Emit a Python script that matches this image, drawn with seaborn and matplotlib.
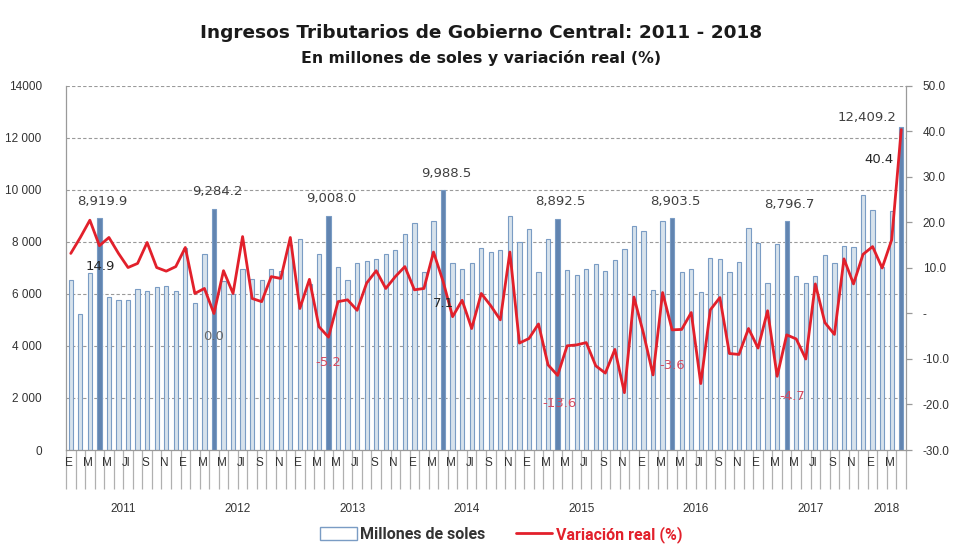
import numpy as np
import pandas as pd
import matplotlib.pyplot as plt
import matplotlib.transforms as mtransforms
from matplotlib.patches import Patch
from matplotlib.lines import Line2D
import seaborn as sns

# datos mensuales ene-2011 a abr-2018
anios = ['2011', '2012', '2013', '2014', '2015', '2016', '2017', '2018']
meses_por_anio = [12, 12, 12, 12, 12, 12, 12, 4]
etiquetas_mes = ['E', 'M', 'M', 'Jl', 'S', 'N']

millones = [
    6540, 5220, 6820, 8919.9, 5900, 5760, 5760, 6180, 6130, 6280, 6320, 6130,
    7760, 5670, 7540, 9284.2, 6500, 6000, 6960, 6590, 6540, 6970, 6900, 7900,
    8110, 6400, 7540, 9008.0, 7030, 6540, 7200, 7260, 7350, 7540, 7690, 8290,
    8720, 6830, 8820, 9988.5, 7200, 6970, 7200, 7780, 7630, 7680, 8990, 8010,
    8490, 6830, 8100, 8892.5, 6920, 6730, 6970, 7150, 6880, 7300, 7730, 8620,
    8440, 6150, 8790, 8903.5, 6860, 6960, 6060, 7400, 7330, 6860, 7240, 8550,
    7950, 6410, 7920, 8796.7, 6690, 6410, 6690, 7500, 7200, 7860, 7820, 9790,
    9220, 7050, 9200, 12409.2,
]

variacion = [
    13.2, 16.7, 20.5, 14.9, 16.7, 13.2, 10.1, 11.0, 15.6, 10.1, 9.3, 10.3,
    14.5, 4.4, 5.5, 0.0, 9.4, 4.4, 16.9, 3.3, 2.6, 8.1, 7.7, 16.7,
    1.1, 7.5, -2.9, -5.2, 2.6, 3.0, 0.7, 6.7, 9.4, 5.5, 8.1, 10.3,
    5.2, 5.5, 13.5, 7.1, -0.7, 2.9, -3.3, 4.4, 1.7, -1.4, 13.5, -6.5,
    -5.5, -2.3, -11.3, -13.6, -7.1, -6.9, -6.4, -11.5, -13.1, -7.9, -17.4, 3.6,
    -4.4, -13.5, 4.6, -3.6, -3.5, 0.2, -15.4, 0.8, 3.5, -8.8, -9.0, -3.3,
    -7.6, 0.6, -13.8, -4.7, -5.6, -10.0, 6.5, -2.0, -4.6, 12.0, 6.5, 13.0,
    14.7, 10.0, 16.2, 40.4,
]

yticks_izq = [0, 2000, 4000, 6000, 8000, 10000, 12000, 14000]
ylabels_izq = ['0', '2 000', '4 000', '6 000', '8 000', '10 000', '12 000', '14000']
yticks_der = [-30, -20, -10, 0, 10, 20, 30, 40, 50]
ylabels_der = ['-30.0', '-20.0', '-10.0', '-', '10.0', '20.0', '30.0', '40.0', '50.0']

mes_num = [m for n in meses_por_anio for m in range(n)]
df = pd.DataFrame({
    'mes': np.arange(len(millones)),
    'mes_num': mes_num,
    'millones': millones,
    'variacion': variacion,
})
df['abril'] = df['mes_num'] == 3

sns.set_style('white')
plt.rcParams['font.family'] = ['Liberation Sans', 'DejaVu Sans']

ROJO = '#e2202b'
AZUL_CLARO = '#d3e2f0'
AZUL_BORDE = '#7a9cc4'
AZUL_OSCURO = '#5483bd'
GRIS = '#9a9a9a'

fig = plt.figure(figsize=(9.62, 5.45), dpi=100)
ax = fig.add_axes([0.0686, 0.1743, 0.8732, 0.668])

sns.barplot(data=df, x='mes', y='millones', hue='abril', dodge=False,
            native_scale=True, width=0.45,
            palette={False: AZUL_CLARO, True: AZUL_OSCURO},
            edgecolor=AZUL_BORDE, linewidth=0.8, legend=False, ax=ax)
ax.set_xlim(-0.5, len(millones) - 0.5)
ax.set_ylim(0, 14000)
ax.set_yticks(yticks_izq)
ax.set_yticklabels(ylabels_izq, fontsize=8.5, color='#333333')
ax.set_xlabel('')
ax.set_ylabel('')
for y in yticks_izq[1:]:
    ax.axhline(y, color=GRIS, lw=0.8, ls=(0, (3, 2)), zorder=0)

ax2 = ax.twinx()
sns.lineplot(data=df, x='mes', y='variacion', ax=ax2, color=ROJO, linewidth=2.0)
ax2.set_ylim(-30, 50)
ax2.set_yticks(yticks_der)
ax2.set_yticklabels(ylabels_der, fontsize=8.5, color='#333333')
ax2.set_ylabel('')
ax2.set_xlim(-0.5, len(millones) - 0.5)

for a in (ax, ax2):
    a.spines['top'].set_visible(False)
    for s in ('left', 'right', 'bottom'):
        a.spines[s].set_color(GRIS)
        a.spines[s].set_linewidth(0.9)
ax.spines['right'].set_visible(False)
ax2.spines['left'].set_visible(False)
ax2.spines['bottom'].set_visible(False)
ax.tick_params(axis='y', left=False, pad=14)
ax2.tick_params(axis='y', right=True, length=4, color=GRIS, width=0.9, pad=8)

# eje x en dos niveles: meses y años
limites_anio = np.concatenate([[0], np.cumsum(meses_por_anio)]) - 0.5
ax.set_xticks(limites_anio)
ax.set_xticks(np.arange(len(millones) + 1) - 0.5, minor=True)
ax.set_xticklabels([])
ax.tick_params(axis='x', which='major', bottom=True, direction='out',
               length=56, color=GRIS, width=0.9)
ax.tick_params(axis='x', which='minor', bottom=True, direction='out',
               length=28, color='#b0b0b0', width=0.9)
ax2.set_xticks([])

trans = mtransforms.blended_transform_factory(ax.transData, ax.transAxes)
for k, anio in enumerate(anios):
    inicio = limites_anio[k] + 0.5
    for j in range(0, meses_por_anio[k], 2):
        ax.text(inicio + j - 0.2, -0.035, etiquetas_mes[j // 2], transform=trans,
                ha='center', va='center', fontsize=8.5, color='#333333')
    ax.text((limites_anio[k] + limites_anio[k + 1]) / 2, -0.162, anio, transform=trans,
            ha='center', va='center', fontsize=8.5, color='#333333')

# etiquetas de abril
abr = df[df['abril']].reset_index(drop=True)
off_barra = [(3, 17)] * 7 + [(-34, 10)]
off_linea = [(1, -21), (0, -23), (0, -25), (0, -22), (2, -28), (0, -36), (6, -62), (-22, -30)]
for k, fila in abr.iterrows():
    ax.annotate(f"{fila['millones']:,.1f}", xy=(fila['mes'], fila['millones']),
                xytext=off_barra[k], textcoords='offset pixels', ha='center', va='center',
                fontsize=9.5, color='#404040', family='DejaVu Sans')
    v = fila['variacion']
    col = '#d64a60' if v < 0 else ('#6a6a6a' if v == 0 else '#262626')
    ax2.annotate(f"{v:.1f}", xy=(fila['mes'], v), xytext=off_linea[k],
                 textcoords='offset pixels', ha='center', va='center',
                 fontsize=9.5, color=col, family='DejaVu Sans')

fig.text(0.5, 0.94, 'Ingresos Tributarios de Gobierno Central: 2011 - 2018',
         ha='center', va='center', fontsize=13.3, fontweight='bold',
         family='DejaVu Sans', color='#1a1a1a')
fig.text(0.5, 0.893, 'En millones de soles y variación real (%)',
         ha='center', va='center', fontsize=11.3, fontweight='bold',
         family='DejaVu Sans', color='#1a1a1a')

handles = [Patch(facecolor='white', edgecolor=AZUL_BORDE, linewidth=1.0),
           Line2D([0], [0], color=ROJO, lw=2.0)]
leg = fig.legend(handles, ['Millones de soles', 'Variación real (%)'],
                 loc='center', bbox_to_anchor=(0.521, 0.02), ncol=2, frameon=False,
                 handlelength=2.3, handleheight=0.9, handletextpad=0.2, columnspacing=1.9,
                 prop={'family': 'Roboto', 'weight': 'bold', 'size': 11.5})
leg.get_texts()[0].set_color('#333333')
leg.get_texts()[1].set_color(ROJO)

fig.savefig('out.png', dpi=100)
